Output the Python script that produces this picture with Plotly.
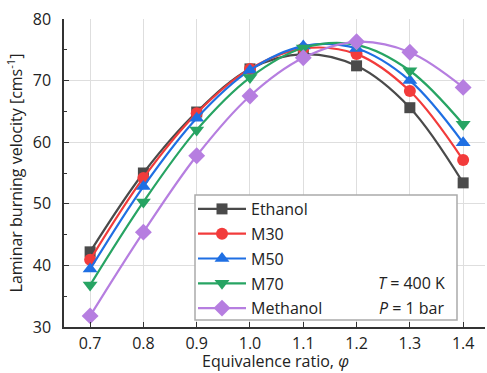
import plotly.graph_objects as go

phi = [0.7, 0.8, 0.9, 1.0, 1.1, 1.2, 1.3, 1.4]
ethanol = [42.2, 55.0, 64.9, 71.9, 74.3, 72.4, 65.6, 53.4]
m30 = [40.9, 54.2, 64.7, 71.9, 75.2, 74.3, 68.3, 57.1]
m50 = [39.4, 52.8, 63.9, 71.7, 75.6, 75.2, 70.0, 59.9]
m70 = [36.8, 50.3, 62.0, 70.5, 75.3, 75.8, 71.6, 62.9]
methanol = [31.8, 45.4, 57.8, 67.5, 73.7, 76.3, 74.6, 68.9]

names = ["Ethanol", "M30", "M50", "M70", "Methanol"]
series = [ethanol, m30, m50, m70, methanol]
colors = ["#4a4a4a", "#f23b3b", "#1f6fe3", "#27a463", "#b67ee0"]
symbols = ["square", "circle", "triangle-up", "triangle-down", "diamond"]
sizes = [11, 12, 13, 13, 13]

fig = go.Figure()
for n, s, c, sym, sz in zip(names, series, colors, symbols, sizes):
    fig.add_trace(go.Scatter(
        x=phi, y=s, name=n, mode="lines+markers", legendgroup=n,
        line=dict(color=c, width=2.2, shape="spline", smoothing=1.0),
        marker=dict(symbol=sym, size=sz, color=c),
    ))

# plot area in window pixels: x 64..485, y 19..327
def px(X):
    return (X - 64) / 421

def py(Y):
    return (327 - Y) / 308

font = "Open Sans, Noto Sans, sans-serif"
fig.update_layout(
    width=487, height=373,
    margin=dict(l=64, r=2, t=19, b=46),
    paper_bgcolor="white", plot_bgcolor="white",
    font=dict(family=font, size=16, color="#222"),
    showlegend=True,
    legend=dict(x=px(193), y=py(192), xanchor="left", yanchor="top",
                bgcolor="rgba(0,0,0,0)", borderwidth=0, itemwidth=48,
                tracegroupgap=1, font=dict(size=16, color="#222")),
    xaxis=dict(range=[0.651, 1.441], tickvals=phi,
               ticktext=["0.7", "0.8", "0.9", "1.0", "1.1", "1.2", "1.3", "1.4"],
               automargin=False,
               showgrid=True, gridcolor="#dedede", gridwidth=1,
               showline=True, linecolor="#333", linewidth=1.5,
               ticks="inside", ticklen=5, tickcolor="#333", zeroline=False,
               ticklabelstandoff=1),
    yaxis=dict(range=[30, 80], tickvals=[30, 40, 50, 60, 70, 80],
               automargin=False,
               showgrid=True, gridcolor="#dedede", gridwidth=1,
               showline=True, linecolor="#333", linewidth=1.5,
               ticks="inside", ticklen=5, tickcolor="#333", zeroline=False,
               ticklabelstandoff=8,
               minor=dict(dtick=5, ticks="inside", ticklen=3, tickcolor="#333", showgrid=False),
               title=dict(text="Laminar burning velocity [cms<sup>-1</sup>]", standoff=6,
                          font=dict(size=16))),
)

fig.add_annotation(xref="paper", yref="paper", x=px(275), y=py(361),
                   text="Equivalence ratio, <i>φ</i>", showarrow=False,
                   xanchor="center", yanchor="middle", font=dict(size=16, color="#222"))

fig.add_shape(type="rect", xref="paper", yref="paper",
              x0=px(195), x1=px(457), y0=py(320), y1=py(195),
              line=dict(color="#aaaaaa", width=1.5), fillcolor="white", layer="above")

fig.add_annotation(xref="paper", yref="paper", x=px(447), y=py(283),
                   text="<i>T</i> = 400 K", showarrow=False, xanchor="right", yanchor="middle",
                   font=dict(size=16, color="#222"))
fig.add_annotation(xref="paper", yref="paper", x=px(447), y=py(308),
                   text="<i>P</i> = 1 bar", showarrow=False, xanchor="right", yanchor="middle",
                   font=dict(size=16, color="#222"))

fig.write_html("out.html", config={"displayModeBar": False},
               post_script="document.body.style.margin='0px';document.body.style.overflow='hidden';")
